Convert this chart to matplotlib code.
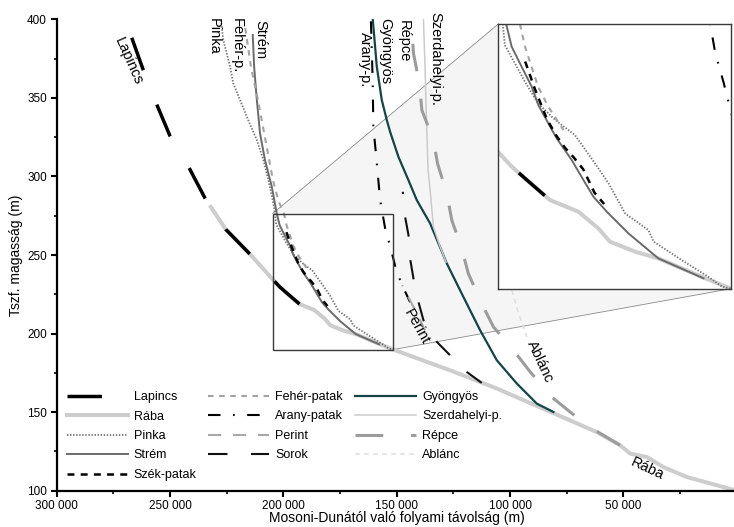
import numpy as np
import matplotlib
matplotlib.use("Agg")
import matplotlib.pyplot as plt
from matplotlib.lines import Line2D
from matplotlib.patches import Polygon, Rectangle
from matplotlib.ticker import MultipleLocator, FuncFormatter

plt.rcParams['font.family'] = ['Liberation Sans', 'DejaVu Sans']
plt.rcParams['lines.scale_dashes'] = False

# river long profiles: distance from Mosoni-Duna (m), elevation (m)
lapincs_x = [266900, 261800, 255900, 250000, 241600, 234500, 225400, 214700, 204400, 201600, 198600, 192900]
lapincs_y = [388.3, 367.7, 345.9, 325.7, 305.5, 286.0, 266.3, 250.5, 234.0, 229.7, 225.9, 218.8]

raba_x = [232000, 225400, 214700, 204400, 201600, 198600, 192900, 186400, 181800, 179200, 173400,
          168100, 158200, 151500, 126400, 106100, 95600, 80900, 61700, 51400, 47000, 39600, 32300, 22000, 0]
raba_y = [280.6, 266.3, 250.5, 234.0, 229.7, 225.9, 218.8, 215.0, 209.5, 205.2, 201.9,
          199.7, 193.7, 189.8, 176.6, 165.2, 158.6, 149.4, 137.3, 128.9, 123.6, 121.4, 115.0, 108.7, 100.0]

pinka_x = [227600, 226500, 223500, 222100, 219100, 215500, 211700, 208800, 206600, 204700, 203700, 203200,
           200900, 198600, 195600, 191700, 187200, 182600, 179500, 175700, 170400, 169200, 162800, 156700,
           153600, 151500]
pinka_y = [400.0, 386.8, 369.8, 359.2, 348.6, 335.9, 323.1, 310.4, 297.7, 284.9, 276.4, 269.5,
           263.5, 257.5, 250.4, 245.0, 240.1, 230.8, 224.3, 214.4, 209.0, 205.2, 199.2, 193.7,
           190.5, 189.8]

strem_x = [213500, 212900, 211700, 210300, 208100, 205100, 202900, 201650, 199360, 197070, 195550, 193260,
           191350, 187920, 185250, 182960, 179910, 174950, 168090, 157790]
strem_y = [390.0, 369.8, 348.6, 327.4, 310.4, 293.4, 276.4, 269.0, 262.4, 255.9, 249.9, 243.9,
           239.0, 231.9, 225.4, 219.9, 215.0, 207.9, 199.7, 193.2]

szek_x = [198900, 196300, 193600, 191400, 189500, 187600, 185300, 182700, 180500]
szek_y = [265.5, 255.0, 245.3, 239.8, 236.0, 233.0, 228.9, 221.2, 217.5]

feher_x = [216900, 214300, 211200, 209000, 206800, 204600, 202300, 199700, 198600, 197100, 195600, 193300, 189800]
feher_y = [395.3, 369.8, 348.6, 331.6, 314.7, 297.7, 285.0, 276.1, 269.0, 262.4, 255.9, 249.4, 241.7]

arany_x = [161400, 160600, 160300, 159100, 157300, 155100, 153200, 150000, 147100, 144100]
arany_y = [400.0, 361.3, 331.6, 313.6, 284.9, 266.9, 257.3, 239.2, 229.3, 220.0]

perint_x = [147600, 141400, 137500]
perint_y = [230.8, 213.6, 202.1]

sorok_x = [147300, 146300, 144800, 144100, 142600, 140400, 138200, 132300, 127200, 119100, 112500]
sorok_y = [290.2, 274.3, 262.6, 247.8, 235.0, 220.1, 208.5, 194.7, 187.3, 175.6, 168.6]

gyongyos_x = [160550, 158780, 156580, 154370, 152910, 149250, 144840, 141130, 135260, 127890, 120570,
              113200, 105830, 97000, 88180, 80850]
gyongyos_y = [400.0, 369.8, 348.6, 335.9, 328.4, 312.5, 297.7, 284.9, 270.1, 244.6, 223.3,
              202.1, 183.0, 168.2, 155.4, 150.1]

szerdahelyi_x = [138200, 137500, 137000, 136150, 135260, 133800, 130850, 128200]
szerdahelyi_y = [400.0, 369.8, 342.2, 304.0, 291.3, 267.9, 255.2, 245.4]

repce_x = [143300, 142600, 140000, 138900, 133800, 132000, 127900, 125700, 121300, 118400, 112500,
           107300, 98500, 91100, 81600, 73500, 64700, 51400]
repce_y = [393.2, 378.3, 359.2, 342.2, 323.1, 308.3, 289.2, 272.2, 254.1, 238.2, 219.1,
           204.2, 189.4, 175.6, 159.6, 150.1, 140.3, 128.9]

ablanc_x = [102200, 99200, 96400, 92600]
ablanc_y = [249.9, 227.6, 213.6, 197.8]

# zoomed window shown in the inset
zoom_x = (151500, 204700)
zoom_y = (189.8, 276.4)

rivers = [
    ('Rába', raba_x, raba_y, dict(color='#cdcdcd', lw=2.9), None, 1.5),
    ('Lapincs', lapincs_x, lapincs_y, dict(color='black', lw=2.5), (24.8, 26.6), 2.5),
    ('Pinka', pinka_x, pinka_y, dict(color='#707070', lw=1.3), (1.0, 1.2), 2),
    ('Strém', strem_x, strem_y, dict(color='#6a6a6a', lw=1.4), None, 2),
    ('Szék-patak', szek_x, szek_y, dict(color='black', lw=1.8), (5.0, 4.5), 2.2),
    ('Fehér-patak', feher_x, feher_y, dict(color='#a3a3a3', lw=1.5), (4.0, 4.0), 2),
    ('Arany-patak', arany_x, arany_y, dict(color='black', lw=1.5), (9.0, 9.0, 1.2, 9.0), 2),
    ('Perint', perint_x, perint_y, dict(color='#a8a8a8', lw=1.5), (9.5, 8.5), 2),
    ('Sorok', sorok_x, sorok_y, dict(color='#111111', lw=1.5), (14.0, 17.0), 2),
    ('Gyöngyös', gyongyos_x, gyongyos_y, dict(color='#134545', lw=1.6), None, 2),
    ('Szerdahelyi-p.', szerdahelyi_x, szerdahelyi_y, dict(color='#cbcbcb', lw=1.1), None, 2),
    ('Répce', repce_x, repce_y, dict(color='#9c9c9c', lw=2.2), (20.0, 20.0), 2.1),
    ('Ablánc', ablanc_x, ablanc_y, dict(color='#dedede', lw=1.1), (3.5, 3.0), 2),
]
legend_order = ['Lapincs', 'Rába', 'Pinka', 'Strém', 'Szék-patak',
                'Fehér-patak', 'Arany-patak', 'Perint', 'Sorok',
                'Gyöngyös', 'Szerdahelyi-p.', 'Répce', 'Ablánc']

fig = plt.figure(figsize=(7.34, 5.27), dpi=100)
ax = fig.add_axes([56.7 / 734, 36.3 / 527, 680 / 734, 471.4 / 527])
ax.set_xlim(300000, 0)
ax.set_ylim(100, 400)
ins = fig.add_axes([498.3 / 734, (527 - 288.7) / 527, 232.7 / 734, 264.7 / 527], zorder=5)
ins.set_xlim(zoom_x[1], zoom_x[0])
ins.set_ylim(*zoom_y)


def end_aligned(axis, xs, ys, pattern):
    # shift dash pattern so the line ends with a full dash (at the mouth)
    pts = axis.transData.transform(np.column_stack([xs, ys]))
    length = np.hypot(*np.diff(pts, axis=0).T).sum() * 72 / fig.dpi
    off = (pattern[0] - 0.5 - length) % sum(pattern)
    return (off, pattern)


def draw(axis):
    for name, xs, ys, st, pattern, z in rivers:
        ls = '-' if pattern is None else end_aligned(axis, xs, ys, pattern)
        axis.plot(xs, ys, ls=ls, zorder=z, **st)


draw(ax)
draw(ins)

# shaded connection between the box and the inset
inv = ax.transData.inverted()
bb = ins.get_position()
tl = inv.transform(fig.transFigure.transform((bb.x0, bb.y1)))
br = inv.transform(fig.transFigure.transform((bb.x1, bb.y0)))
poly = [(zoom_x[1], zoom_y[1]), tuple(tl), tuple(br), (zoom_x[0], zoom_y[0]), (zoom_x[0], zoom_y[1])]
ax.add_patch(Polygon(poly, closed=True, facecolor='#f5f5f5', edgecolor='none', zorder=0.5))
ax.plot([zoom_x[1], tl[0]], [zoom_y[1], tl[1]], color='#8a8a8a', lw=0.6, zorder=0.6)
ax.plot([zoom_x[0], br[0]], [zoom_y[0], br[1]], color='#8a8a8a', lw=0.6, zorder=0.6)
ax.add_patch(Rectangle((zoom_x[0], zoom_y[0]), zoom_x[1] - zoom_x[0], zoom_y[1] - zoom_y[0],
                       fill=False, ec='#3a3a3a', lw=1.0, zorder=4))

ins.set_xticks([])
ins.set_yticks([])
for s in ins.spines.values():
    s.set_color('#3a3a3a')
    s.set_linewidth(1.0)

# axes styling
for side in ['top', 'right']:
    ax.spines[side].set_visible(False)
for side in ['left', 'bottom']:
    ax.spines[side].set_linewidth(1.6)
ax.xaxis.set_major_locator(MultipleLocator(50000))
ax.xaxis.set_minor_locator(MultipleLocator(25000))
ax.yaxis.set_major_locator(MultipleLocator(50))
ax.yaxis.set_minor_locator(MultipleLocator(25))
ax.xaxis.set_major_formatter(FuncFormatter(lambda v, p: f"{int(round(v)):,}".replace(',', ' ')))
ax.tick_params(which='major', direction='out', length=4, width=1.5, labelsize=8.5, pad=3)
ax.tick_params(which='minor', direction='out', length=2.5, width=1.2)

ax.set_xlabel('Mosoni-Dunától való folyami távolság (m)', fontsize=10)
ax.xaxis.set_label_coords(0.5, -0.043)
ax.set_ylabel('Tszf. magasság (m)', fontsize=10)
ax.yaxis.set_label_coords(-0.05, 0.5)

# river names
lab = dict(fontsize=10.5)
ax.text(268400, 373, 'Lapincs', rotation=-66, ha='center', va='center', **lab)
ax.text(230900, 400.6, 'Pinka', rotation=-90, ha='center', va='top', **lab)
ax.text(220600, 400.6, 'Fehér-p.', rotation=-90, ha='center', va='top', **lab)
ax.text(210300, 399.5, 'Strém', rotation=-90, ha='center', va='top', **lab)
ax.text(163950, 392.1, 'Arany-p.', rotation=-90, ha='center', va='top', **lab)
ax.text(155100, 400.6, 'Gyöngyös', rotation=-90, ha='center', va='top', **lab)
ax.text(147050, 399.6, 'Répce', rotation=-90, ha='center', va='top', **lab)
ax.text(133060, 404.8, 'Szerdahelyi-p.', rotation=-90, ha='center', va='top', **lab)
ax.text(141100, 204.2, 'Perint', rotation=-61, ha='center', va='center', **lab)
ax.text(86700, 181.9, 'Ablánc', rotation=-65, ha='center', va='center', **lab)
ax.text(39600, 114.2, 'Rába', rotation=-25, ha='center', va='center', **lab)

styles = {name: (st, pattern) for name, xs, ys, st, pattern, z in rivers}
handles = []
for name in legend_order:
    st, pattern = styles[name]
    handles.append(Line2D([], [], ls='-' if pattern is None else (0, pattern), **st))
ax.legend(handles, legend_order, ncol=3, loc='upper left', bbox_to_anchor=(66.7 / 734, 1 - 391 / 527),
          bbox_transform=fig.transFigure, frameon=False, fontsize=9, handlelength=4.88,
          handletextpad=0.48, columnspacing=0.95, labelspacing=0.6, borderpad=0, borderaxespad=0)

fig.savefig('out.png', dpi=100)
